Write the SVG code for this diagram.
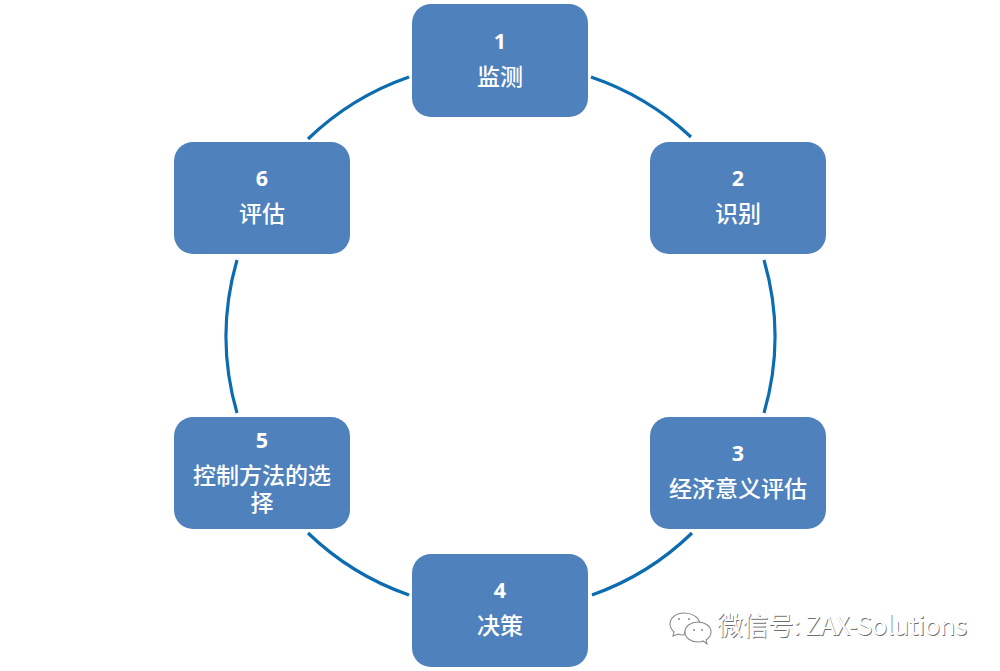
<svg xmlns="http://www.w3.org/2000/svg" width="1000" height="671" viewBox="0 0 1000 671">
<style>
.box{fill:#4f81bd}
.arc{fill:none;stroke:#0b6cb0;stroke-width:3.200}
text{font-family:"Noto Sans CJK SC","Noto Sans",sans-serif;fill:#fff;text-anchor:middle}
.n{font-family:"Open Sans","Noto Sans",sans-serif;font-weight:700;font-size:21.500px}
.t{font-size:23px;font-weight:500}
.wm{font-size:26px;text-anchor:start;font-weight:400;fill:#fff}
.wms{font-size:26px;text-anchor:start;font-weight:400;fill:#6e6e6e}
.ic{fill:#fff;stroke:#8a8a8a;stroke-width:1.100}
.eye{fill:#8a8a8a}
</style>
<rect width="1000" height="671" fill="#fff"/>
<g id="connectors">
<path class="arc" d="M591 77A275 275 0 0 1 691 137"/>
<path class="arc" d="M764 260A275 275 0 0 1 764 413"/>
<path class="arc" d="M692 533A275 275 0 0 1 592 595"/>
<path class="arc" d="M409 595A275 275 0 0 1 308 533"/>
<path class="arc" d="M237 413A275 275 0 0 1 237 260"/>
<path class="arc" d="M308 139A275 275 0 0 1 409 77"/>
</g>
<g id="node1"><rect class="box" x="412" y="4" width="176" height="113" rx="19"/><text class="n" x="500" y="49">1</text><text class="t" x="500" y="85">监测</text></g>
<g id="node2"><rect class="box" x="650" y="142" width="176" height="112" rx="19"/><text class="n" x="738" y="186">2</text><text class="t" x="738" y="222">识别</text></g>
<g id="node3"><rect class="box" x="650" y="417" width="176" height="112" rx="19"/><text class="n" x="738" y="461">3</text><text class="t" x="738" y="497">经济意义评估</text></g>
<g id="node4"><rect class="box" x="412" y="554" width="176" height="113" rx="19"/><text class="n" x="500" y="598">4</text><text class="t" x="500" y="634">决策</text></g>
<g id="node5"><rect class="box" x="174" y="417" width="176" height="112" rx="19"/><text class="n" x="262" y="448">5</text><text class="t" x="262" y="484">控制方法的选</text><text class="t" x="262" y="511">择</text></g>
<g id="node6"><rect class="box" x="174" y="142" width="176" height="112" rx="19"/><text class="n" x="262" y="186">6</text><text class="t" x="262" y="222">评估</text></g>
<g id="watermark">
<path class="ic" d="M684 613c-8 0-14 5-14 11c0 3 2 6 4 8l-1 4l5-2c2 1 4 1 6 1c1-7 7-12 16-12c-2-6-8-10-16-10z"/>
<path class="ic" d="M698 622c-7 0-13 4-13 10s6 10 13 10c2 0 3 0 5-1l4 3l-1-4c3-2 5-5 5-8c0-6-6-10-13-10z"/>
<circle class="eye" cx="679" cy="619" r="1"/><circle class="eye" cx="689" cy="619" r="1"/><circle class="eye" cx="694" cy="630" r="1"/><circle class="eye" cx="702" cy="630" r="1"/>
<text class="wms" x="717.800" y="635.800" textLength="250">微信号: ZAX-Solutions</text>
<text class="wm" x="717" y="635" textLength="250">微信号: ZAX-Solutions</text>
</g>
</svg>
